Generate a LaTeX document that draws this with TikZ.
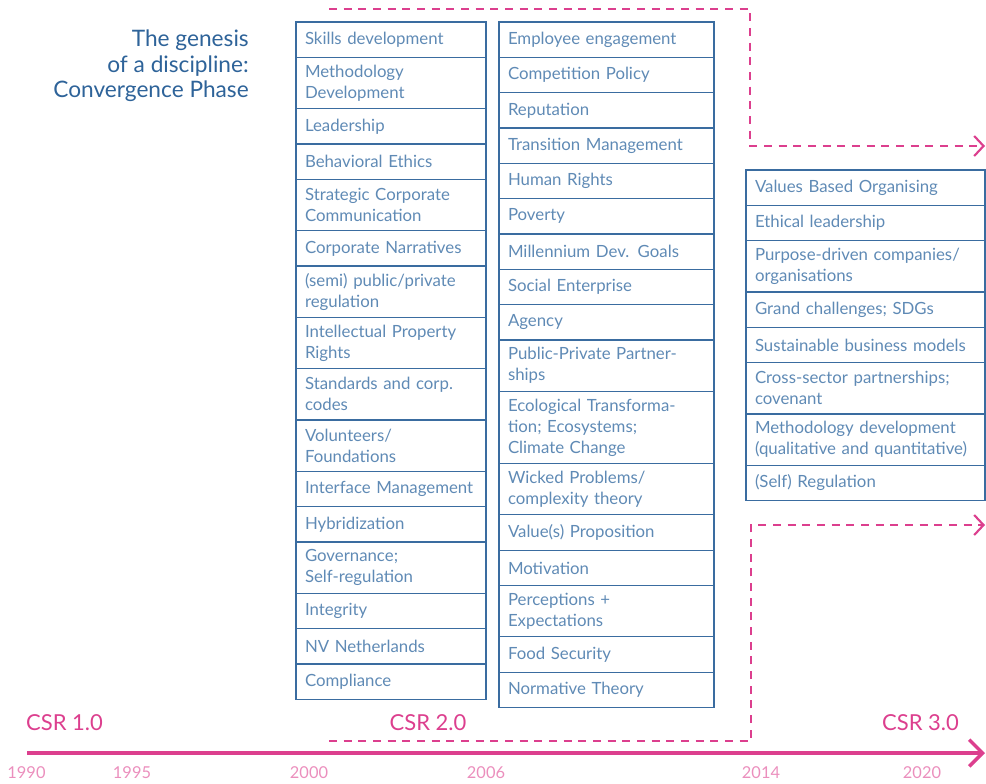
\documentclass[tikz,border=0pt]{standalone}
\usepackage{fontspec}
\setmainfont{Lato}
\usetikzlibrary{positioning,arrows.meta}
\definecolor{titleblue}{RGB}{46,99,153}
\definecolor{boxblue}{RGB}{58,108,160}
\definecolor{itemblue}{RGB}{95,138,181}
\definecolor{csrpink}{RGB}{220,63,142}
\definecolor{yearpink}{RGB}{235,143,189}
\tikzset{
  item/.style={draw=boxblue, line width=0.8pt, rectangle, outer sep=0pt,
    inner xsep=6.75pt, inner ysep=1pt, align=left, text=itemblue,
    font=\fontsize{12.6}{15.75}\selectfont},
  colA/.style={item, text width=129pt},
  colB/.style={item, text width=147.75pt},
  colC/.style={item, text width=165.75pt},
  one/.style={minimum height=26.5pt},
  two/.style={minimum height=38.5pt},
  three/.style={minimum height=54.2pt},
  dashline/.style={draw=csrpink, line width=2pt, dash pattern=on 6pt off 5pt,
    -{Straight Barb[length=7pt,width=15pt,line width=1.6pt]}},
  timeline/.style={draw=csrpink, line width=3pt,
    -{Straight Barb[length=10pt,width=20pt,line width=2.6pt]}},
  csr/.style={text=csrpink, font=\fontsize{16.5}{20}\selectfont, inner sep=0pt},
  year/.style={text=yearpink, font=\fontsize{12.3}{14}\selectfont, inner sep=0pt}
}
\begin{document}
\begin{tikzpicture}[x=0.75pt,y=0.75pt,yscale=-1,xscale=1]
\useasboundingbox (0,0) rectangle (986,783);

% Title
\node [anchor=east, inner sep=0pt, align=right, text=titleblue,
  font=\fontsize{17}{19.2}\selectfont] (title) at (249,66)
  {The genesis\\of a discipline:\\Convergence Phase};

% first column
\node [colA, one, anchor=north west] (skills) at (296,22) {Skills development};
\node [colA, two, below=0pt of skills] (method) {Methodology\\Development};
\node [colA, one, below=0pt of method] (leader) {Leadership};
\node [colA, one, below=0pt of leader] (behav) {Behavioral Ethics};
\node [colA, two, below=0pt of behav] (strat) {Strategic Corporate\\Communication};
\node [colA, one, below=0pt of strat] (narr) {Corporate Narratives};
\node [colA, two, below=0pt of narr] (semi) {(semi) public/private\\regulation};
\node [colA, two, below=0pt of semi] (ip) {Intellectual Property\\Rights};
\node [colA, two, below=0pt of ip] (stand) {Standards and corp.\\codes};
\node [colA, two, below=0pt of stand] (volun) {Volunteers/\\Foundations};
\node [colA, one, below=0pt of volun] (iface) {Interface Management};
\node [colA, one, below=0pt of iface] (hybrid) {Hybridization};
\node [colA, two, below=0pt of hybrid] (gov) {Governance;\\Self-regulation};
\node [colA, one, below=0pt of gov] (integ) {Integrity};
\node [colA, one, below=0pt of integ] (nv) {NV Netherlands};
\node [colA, one, below=0pt of nv] (compl) {Compliance};

% second column
\node [colB, one, anchor=north west] (employ) at (499,22) {Employee engagement};
\node [colB, one, below=0pt of employ] (compet) {Competition Policy};
\node [colB, one, below=0pt of compet] (reput) {Reputation};
\node [colB, one, below=0pt of reput] (trans) {Transition Management};
\node [colB, one, below=0pt of trans] (human) {Human Rights};
\node [colB, one, below=0pt of human] (pov) {Poverty};
\node [colB, one, below=0pt of pov] (mdg) {Millennium Dev. Goals};
\node [colB, one, below=0pt of mdg] (social) {Social Enterprise};
\node [colB, one, below=0pt of social] (agency) {Agency};
\node [colB, two, below=0pt of agency] (ppp) {Public-Private Partner-\\ships};
\node [colB, three, below=0pt of ppp] (eco) {Ecological Transforma-\\tion; Ecosystems;\\Climate Change};
\node [colB, two, below=0pt of eco] (wicked) {Wicked Problems/\\complexity theory};
\node [colB, one, below=0pt of wicked] (value) {Value(s) Proposition};
\node [colB, one, below=0pt of value] (motiv) {Motivation};
\node [colB, two, below=0pt of motiv] (percep) {Perceptions +\\Expectations};
\node [colB, one, below=0pt of percep] (food) {Food Security};
\node [colB, one, below=0pt of food] (norm) {Normative Theory};

% third column
\node [colC, one, anchor=north west] (values) at (746,170) {Values Based Organising};
\node [colC, one, below=0pt of values] (ethical) {Ethical leadership};
\node [colC, two, below=0pt of ethical] (purpose) {Purpose-driven companies/\\organisations};
\node [colC, one, below=0pt of purpose] (grand) {Grand challenges; SDGs};
\node [colC, one, below=0pt of grand] (sustain) {Sustainable business models};
\node [colC, two, below=0pt of sustain] (cross) {Cross-sector partnerships;\\covenant};
\node [colC, two, below=0pt of cross] (methodq) {Methodology development\\(qualitative and quantitative)};
\node [colC, one, below=0pt of methodq] (selfreg) {(Self) Regulation};

% dashed phase borders
\coordinate (topstart) at (329,9);
\coordinate (topbend) at (750,146);
\coordinate (topend) at (985,146);
\draw [dashline] (topstart) -| (topbend) -- (topend);
\coordinate (lowstart) at (329,741);
\coordinate (lowbend) at (751,525);
\coordinate (lowend) at (985,525);
\draw [dashline] (lowstart) -| (lowbend) -- (lowend);

% time line
\coordinate (axstart) at (27,753);
\coordinate (axend) at (985,753);
\draw [timeline] (axstart) -- (axend);

% CSR labels
\node [csr] (csrone) at (64.5,723) {CSR 1.0};
\node [csr] (csrtwo) at (428,723) {CSR 2.0};
\node [csr] (csrthree) at (920.5,723) {CSR 3.0};

% years
\node [year] (y1990) at (26.5,773) {1990};
\node [year] (y1995) at (132,773) {1995};
\node [year] (y2000) at (309,773) {2000};
\node [year] (y2006) at (486,773) {2006};
\node [year] (y2014) at (761,773) {2014};
\node [year] (y2020) at (922,773) {2020};

\end{tikzpicture}
\end{document}
